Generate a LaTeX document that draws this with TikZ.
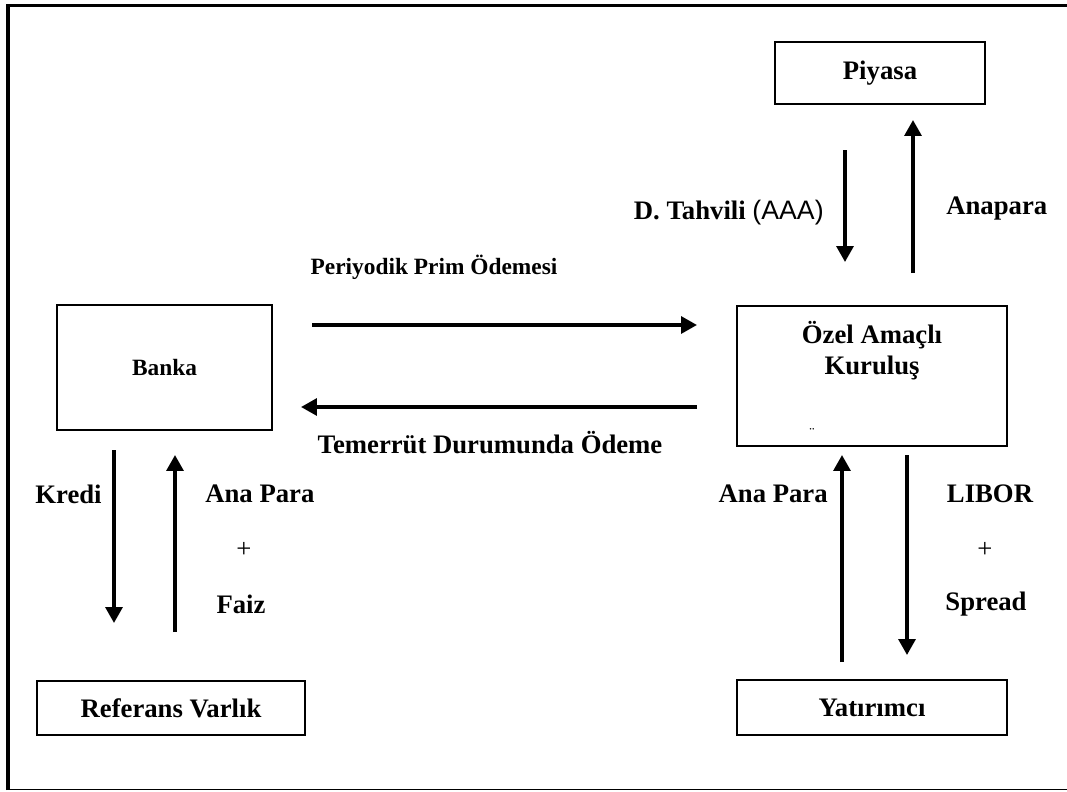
\documentclass[tikz,border=0pt]{standalone}
\usepackage{fontspec}
\setmainfont{Liberation Serif}
\newfontfamily\arialfont{Liberation Sans}
\usetikzlibrary{arrows.meta, positioning, calc}

\begin{document}
\begin{tikzpicture}[
        x=0.02cm, y=-0.02cm,
        font=\fontsize{15.2}{17.5}\selectfont\bfseries,
        box/.style={draw, line width=0.8pt, align=center, inner sep=0pt},
        arr/.style={-{Triangle[length=9pt, width=9.5pt]}, line width=2pt},
        lbl/.style={inner sep=0pt, align=center},
        small/.style={font=\fontsize{13.3}{16}\selectfont\bfseries},
        plus/.style={inner sep=0pt, font=\fontsize{15.2}{17.5}\selectfont}
    ]
    \useasboundingbox (0,0) rectangle (1067,791);
    % frame
    \draw[line width=1.9pt] (8,790) -- (8,5.5) -- (1067,5.5);
    \draw[line width=0.9pt] (8,789.5) -- (1067,789.5);

    % boxes
    \node[box, minimum width=4.2cm, minimum height=1.24cm] (piyasa) at (880,73) {Piyasa};
    \node[box, small, minimum width=4.3cm, minimum height=2.5cm] (banka) at (164.5,367.5) {Banka};
    \node[box, minimum width=5.4cm, minimum height=2.8cm] (ozel) at (872,376) {};
    \node[lbl] (ozeltxt) at (872,351) {Özel Amaçlı\\Kuruluş};
    \node[lbl, font=\small] (ozelmark) at (812,433) {¨};
    \node[box, minimum width=5.36cm, minimum height=1.08cm] (referans) at (171,708) {Referans Varlık};
    \node[box, minimum width=5.4cm, minimum height=1.1cm] (yatirimci) at (872,707.5) {Yatırımcı};

    % arrow ends
    \coordinate (p1) at (312,325);   \coordinate (p2) at (697,325);
    \coordinate (t1) at (697,407);   \coordinate (t2) at (301,407);
    \coordinate (d1) at (845,150);   \coordinate (d2) at (845,262);
    \coordinate (a1) at (913,273);   \coordinate (a2) at (913,120);
    \coordinate (k1) at (114,450);   \coordinate (k2) at (114,623);
    \coordinate (f1) at (175,632);   \coordinate (f2) at (175,455);
    \coordinate (y1) at (842,662);   \coordinate (y2) at (842,455);
    \coordinate (l1) at (907,455);   \coordinate (l2) at (907,655);

    \draw[arr] (p1) -- (p2);
    \draw[arr] (t1) -- (t2);
    \draw[arr] (d1) -- (d2);
    \draw[arr] (a1) -- (a2);
    \draw[arr] (k1) -- (k2);
    \draw[arr] (f1) -- (f2);
    \draw[arr] (y1) -- (y2);
    \draw[arr] (l1) -- (l2);

    % labels
    \node[lbl, small] (periyodik) at (434,267) {Periyodik Prim Ödemesi};
    \node[lbl] (temerrut) at (490,443) {Temerrüt Durumunda Ödeme};
    \node[lbl, anchor=east] (tahvil) at (824,213) {D. Tahvili {\arialfont\mdseries(AAA)}};
    \node[lbl, anchor=west] (anapara) at (946,209) {Anapara};
    \node[lbl, anchor=east] (kredi) at (102,494) {Kredi};
    \node[lbl, anchor=west] (anapara1) at (205,494) {Ana Para};
    \node[plus] (arti1) at (244,550) {+};
    \node[lbl] (faiz) at (241,604) {Faiz};
    \node[lbl, anchor=east] (anapara2) at (828,494) {Ana Para};
    \node[lbl] (libor) at (990,494) {LIBOR};
    \node[plus] (arti2) at (985,550) {+};
    \node[lbl] (spread) at (986,604) {Spread};
\end{tikzpicture}
\end{document}
